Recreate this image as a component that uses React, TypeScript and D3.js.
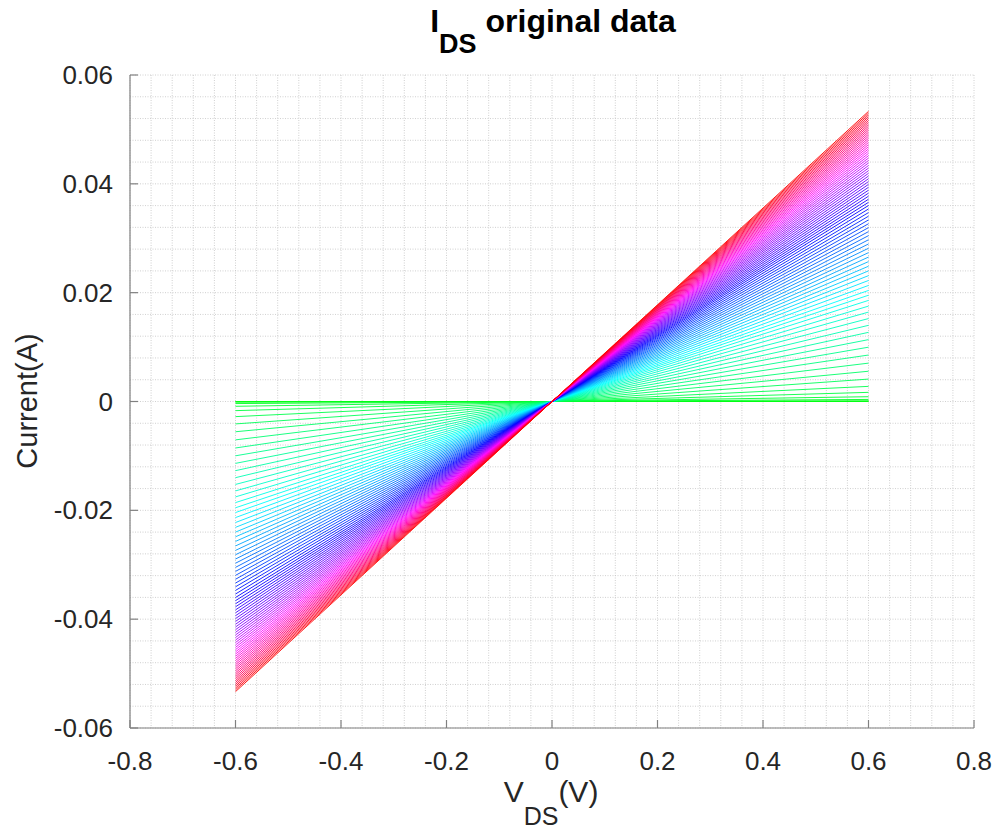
import React from "react";
import * as d3 from "d3";

// Drain current at VDS = +0.6 V for each gate-voltage sweep (green -> red)
const currentAtMax: number[] = [
  0, 0.00003, 0.00013, 0.00038, 0.00088, 0.00168, 0.00278, 0.00412, 0.00556, 0.00705,
  0.00854, 0.00998, 0.01137, 0.01271, 0.014, 0.01524, 0.01643, 0.01753, 0.01858, 0.01953,
  0.02041, 0.02133, 0.02224, 0.02313, 0.024, 0.02486, 0.02571, 0.02654, 0.02736, 0.02816,
  0.02895, 0.02972, 0.03048, 0.03122, 0.03195, 0.03267, 0.03337, 0.03405, 0.03472, 0.03538,
  0.03602, 0.0366, 0.03717, 0.03773, 0.03829, 0.03883, 0.03937, 0.0399, 0.04042, 0.04094,
  0.04144, 0.04194, 0.04242, 0.0429, 0.04337, 0.04384, 0.04429, 0.04474, 0.04517, 0.0456,
  0.04602, 0.04642, 0.04682, 0.04721, 0.0476, 0.04799, 0.04837, 0.04875, 0.04912, 0.04949,
  0.04986, 0.05022, 0.05058, 0.05093, 0.05129, 0.05163, 0.05198, 0.05232, 0.05266, 0.05299,
  0.05332,
];
const vdsPoints: number[] = [-0.6, 0, 0.6];
const xTicks: number[] = [-0.8, -0.6, -0.4, -0.2, 0, 0.2, 0.4, 0.6, 0.8];
const xTickLabels: string[] = ["-0.8", "-0.6", "-0.4", "-0.2", "0", "0.2", "0.4", "0.6", "0.8"];
const yTicks: number[] = [-0.06, -0.04, -0.02, 0, 0.02, 0.04, 0.06];
const yTickLabels: string[] = ["-0.06", "-0.04", "-0.02", "0", "0.02", "0.04", "0.06"];

const W = 997;
const H = 829;
const L = 130;
const R = 974;
const T = 75;
const B = 728;

export default function App() {
  const x = d3.scaleLinear().domain([-0.8, 0.8]).range([L, R]);
  const y = d3.scaleLinear().domain([-0.06, 0.06]).range([B, T]);
  const n = currentAtMax.length;
  const line = d3
    .line<[number, number]>()
    .x((d) => x(d[0]))
    .y((d) => y(d[1]));

  const xGrid = d3.range(0, 41).map((i) => -0.8 + i * 0.04);
  const yGrid = d3.range(0, 31).map((i) => -0.06 + i * 0.004);
  const font = "'Liberation Sans', Arial, Helvetica, sans-serif";
  const txt = "#262626";

  return (
    <svg width={W} height={H} style={{ position: "absolute", left: 0, top: 0, background: "#fff" }}>
      <rect x={0} y={0} width={W} height={H} fill="#fff" />
      <g>
        {xGrid.map((v, i) => (
          <line key={"gx" + i} x1={x(v)} x2={x(v)} y1={T} y2={B} stroke="#c4c4c4" strokeWidth={0.8} strokeDasharray="1 1.5" />
        ))}
        {yGrid.map((v, i) => (
          <line key={"gy" + i} x1={L} x2={R} y1={y(v)} y2={y(v)} stroke="#c4c4c4" strokeWidth={0.8} strokeDasharray="1 1.5" />
        ))}
      </g>
      <g fill="none">
        {currentAtMax.map((iv, k) => {
          const hue = 120 + (240 * k) / (n - 1);
          const c = d3.hsl(hue % 360, 1, 0.5).formatHex();
          const pts: [number, number][] = vdsPoints.map((v) => [v, (iv * v) / 0.6]);
          return <path key={"l" + k} d={line(pts) || ""} stroke={c} strokeWidth={0.9} />;
        })}
      </g>
      <g stroke="#808080" strokeWidth={1.2}>
        <line x1={L} x2={L} y1={T} y2={B} />
        <line x1={L} x2={R} y1={B} y2={B} />
        {xTicks.map((v, i) => (
          <line key={"tx" + i} x1={x(v)} x2={x(v)} y1={B} y2={B - 8} />
        ))}
        {yTicks.map((v, i) => (
          <line key={"ty" + i} x1={L} x2={L + 8} y1={y(v)} y2={y(v)} />
        ))}
      </g>
      <g fontFamily={font} fontSize={26} fill={txt}>
        {xTicks.map((v, i) => (
          <text key={"xl" + i} x={x(v)} y={770} textAnchor="middle">
            {xTickLabels[i]}
          </text>
        ))}
        {yTicks.map((v, i) => (
          <text key={"yl" + i} x={113} y={y(v) + 9} textAnchor="end">
            {yTickLabels[i]}
          </text>
        ))}
      </g>
      <text fontFamily={font} fontSize={32} fontWeight="bold" fill="#000" x={553} y={32} textAnchor="middle">
        <tspan>I</tspan>
        <tspan fontSize={27} dy={21}>DS</tspan>
        <tspan dy={-21}> original data</tspan>
      </text>
      <text fontFamily={font} fontSize={30} fill={txt} x={551} y={802} textAnchor="middle">
        <tspan>V</tspan>
        <tspan fontSize={25} dy={23}>DS</tspan>
        <tspan dy={-23}>(V)</tspan>
      </text>
      <text fontFamily={font} fontSize={29} fill={txt} transform={`translate(37, 401) rotate(-90)`} textAnchor="middle">
        Current(A)
      </text>
    </svg>
  );
}
